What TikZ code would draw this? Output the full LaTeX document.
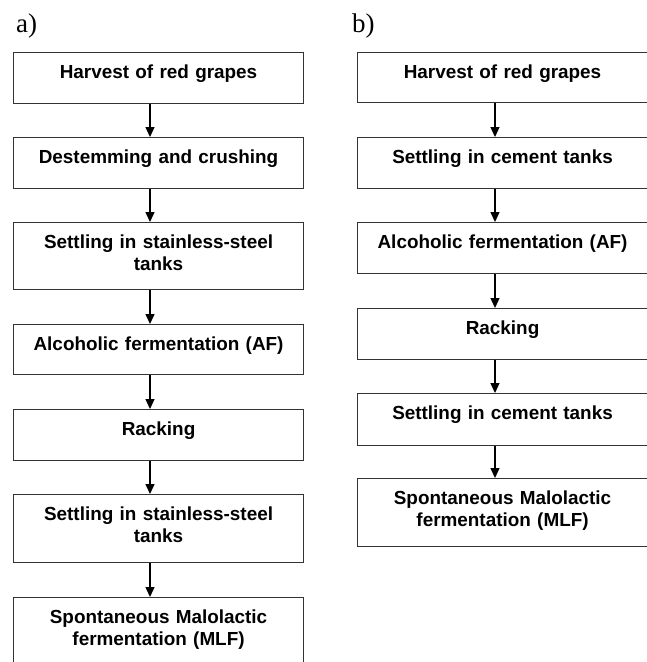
\documentclass[tikz,border=0pt]{standalone}
\usepackage{fontspec}
\setmainfont{Liberation Serif}
\newfontfamily\boxfont{Liberation Sans}
\usetikzlibrary{arrows.meta}
\begin{document}
\begin{tikzpicture}[x=1pt,y=-1pt,
  stepbox/.style={draw=black!80,line width=1.1pt,anchor=north west,
    minimum width=290pt,text width=280pt,align=center,inner xsep=5pt,inner ysep=0pt,
    text height=26pt,text depth=25pt,
    font=\boxfont\bfseries\fontsize{18.9}{22}\selectfont},
  twoline/.style={text depth=42pt},
  flow/.style={line width=1.3pt,-{Triangle[length=10pt,width=9pt]}},
  panel/.style={anchor=base west,inner sep=0pt,font=\fontsize{27}{30}\selectfont}]
\useasboundingbox (0,0) rectangle (647,662);
\node[panel] (la) at (16,32) {a)};
\node[panel] (lb) at (352,32) {b)};
% left column
\node[stepbox] (a1) at (13,52) {Harvest of red grapes};
\node[stepbox] (a2) at (13,137) {Destemming and crushing};
\node[stepbox,twoline,text depth=41pt] (a3) at (13,222) {Settling in stainless-steel\\tanks};
\node[stepbox,text depth=24pt] (a4) at (13,324) {Alcoholic fermentation (AF)};
\node[stepbox] (a5) at (13,409) {Racking};
\node[stepbox,twoline] (a6) at (13,494) {Settling in stainless-steel\\tanks};
\node[stepbox,twoline] (a7) at (13,597) {Spontaneous Malolactic\\fermentation (MLF)};
% right column
\node[stepbox,minimum width=289pt,text depth=24pt] (b1) at (357,52) {Harvest of red grapes};
\node[stepbox,minimum width=289pt] (b2) at (357,137) {Settling in cement tanks};
\node[stepbox,minimum width=289pt] (b3) at (357,222) {Alcoholic fermentation (AF)};
\node[stepbox,minimum width=289pt] (b4) at (357,308) {Racking};
\node[stepbox,minimum width=289pt,text depth=26pt] (b5) at (357,393) {Settling in cement tanks};
\node[stepbox,minimum width=289pt,twoline] (b6) at (357,478) {Spontaneous Malolactic\\fermentation (MLF)};
\coordinate (axL) at (150,0);
\coordinate (axR) at (495,0);
\foreach \u/\v in {a1/a2,a2/a3,a3/a4,a4/a5,a5/a6,a6/a7}
  \draw[flow] (\u.south -| axL) -- (\v.north -| axL);
\foreach \u/\v in {b1/b2,b2/b3,b3/b4,b4/b5,b5/b6}
  \draw[flow] (\u.south -| axR) -- (\v.north -| axR);
\end{tikzpicture}
\end{document}
